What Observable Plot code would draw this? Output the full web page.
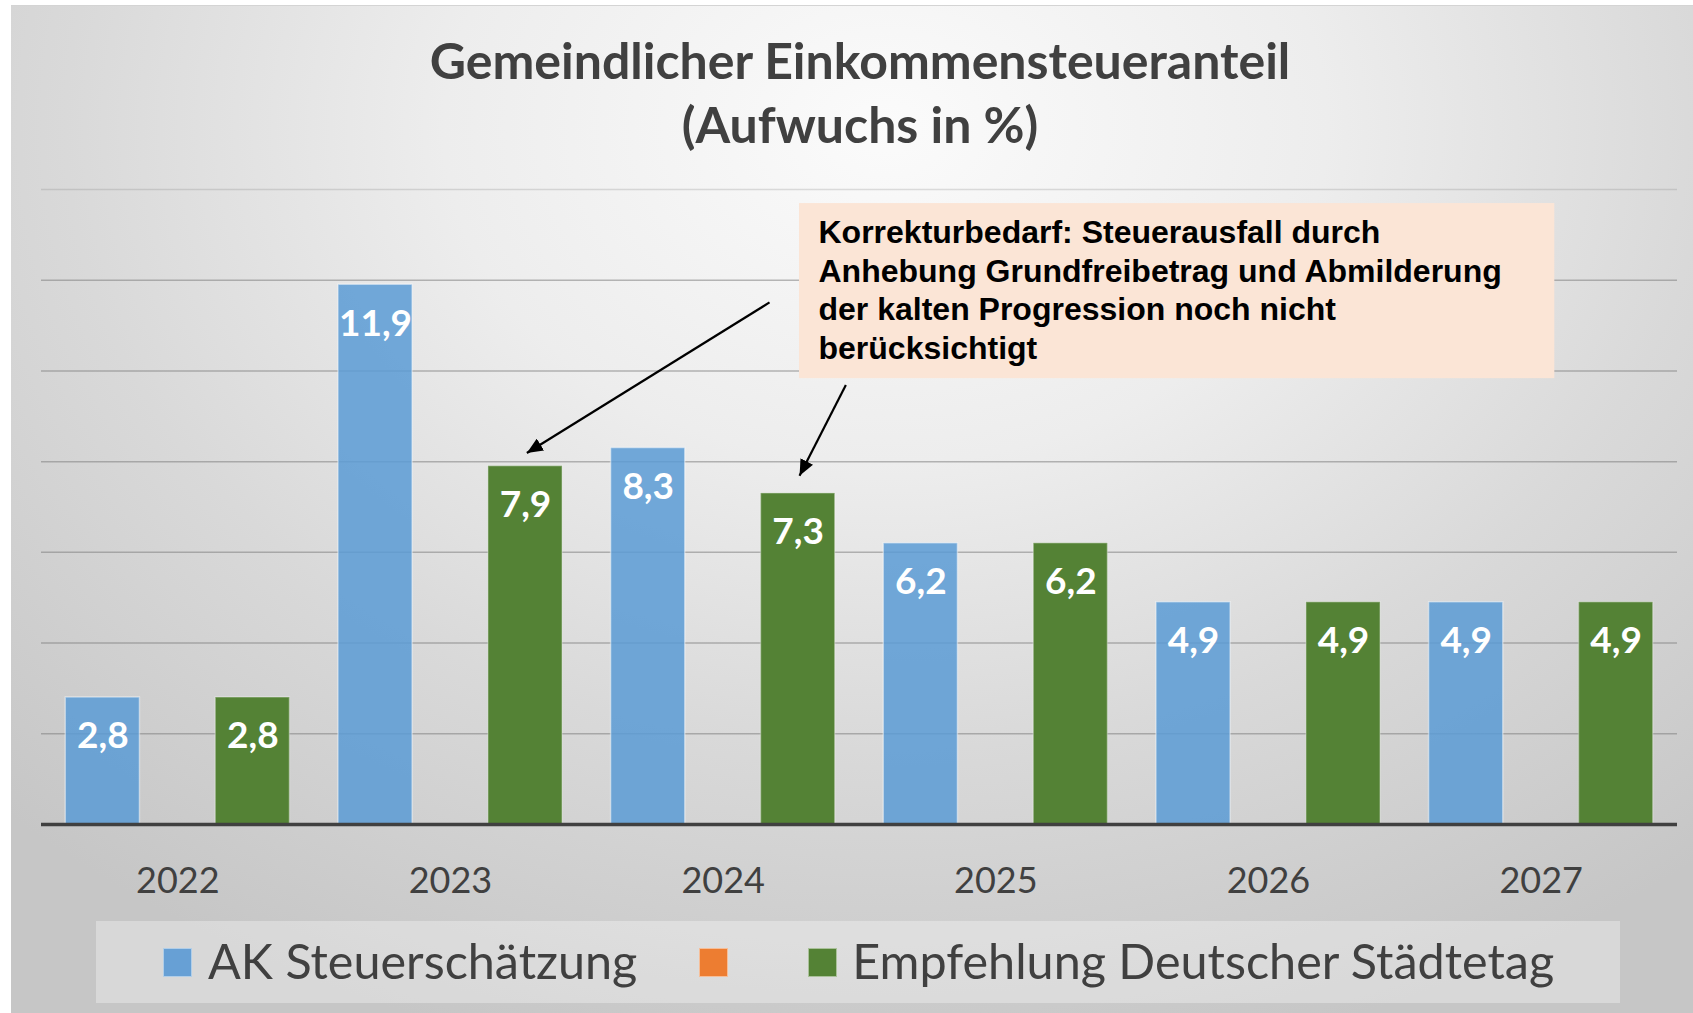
<!DOCTYPE html>
<html>
<head>
<meta charset="utf-8">
<script src="https://cdn.jsdelivr.net/npm/d3@7"></script>
<script src="https://cdn.jsdelivr.net/npm/@observablehq/plot@0.6"></script>
<style>
  html, body { margin: 0; padding: 0; width: 1693px; height: 1013px; overflow: hidden; background: #ffffff; }
  #bg { position: absolute; left: 11px; top: 5px; width: 1682px; height: 1008px;
        background: radial-gradient(ellipse 75% 95% at 52% 12%, #fbfbfb 0%, #ededed 35%, #d9d9d9 65%, #c6c6c6 100%);
        border-top: 1px solid #d4d4d4; }
  .title { position: absolute; left: 19px; width: 1682px; text-align: center; font-family: Lato, "Open Sans", sans-serif;
           font-weight: 700; font-size: 50px; color: #404040; line-height: 1; white-space: nowrap; }
  #plot { position: absolute; left: 0; top: 150px; }
  #legend { position: absolute; left: 96px; top: 921px; width: 1524px; height: 82px; background: rgba(255,255,255,0.32);
            display: flex; align-items: center; justify-content: flex-start; box-sizing: border-box; padding-left: 67px;
            font-family: Lato, "Open Sans", sans-serif; font-size: 48.5px; color: #404040; }
  .sw { width: 29px; height: 29px; flex: none; box-sizing: border-box; border: 1px solid rgba(255,255,255,0.5); }
  .lbl { white-space: nowrap; margin-top: -5px; }
</style>
</head>
<body>
<div id="bg"></div>
<div class="title" id="t1" style="top:35px"></div>
<div class="title" id="t2" style="top:99px"></div>
<div id="plot"></div>
<div id="legend"></div>
<script>
// ---- data ----
const titleLines = ["Gemeindlicher Einkommensteueranteil", "(Aufwuchs in %)"];
const years = [2022, 2023, 2024, 2025, 2026, 2027];
const seriesNames = ["AK Steuerschätzung", "", "Empfehlung Deutscher Städtetag"];
const seriesColors = ["#5B9BD5", "#ED7D31", "#548235"];
const akValues = [2.8, 11.9, 8.3, 6.2, 4.9, 4.9];
const dstValues = [2.8, 7.9, 7.3, 6.2, 4.9, 4.9];
const gridValues = [2, 4, 6, 8, 10, 12, 14];
const noteText = "Korrekturbedarf: Steuerausfall durch\nAnhebung Grundfreibetrag und Abmilderung\nder kalten Progression noch nicht\nberücksichtigt";
const noteX = [2024.28, 2027.05];
const noteY = [9.83, 13.69];
const arrowFromX = [2024.17, 2024.45];
const arrowFromY = [11.51, 9.69];
const arrowToX = [2023.28, 2024.28];
const arrowToY = [8.19, 7.69];

// ---- layout constants ----
const slotOffset = 0.275;   // distance of a series slot from group centre (in year units)
const halfBar = 0.136;      // half bar width (in year units)

document.getElementById("t1").textContent = titleLines[0];
document.getElementById("t2").textContent = titleLines[1];

const ak = years.map((y, i) => ({year: y, value: akValues[i]}));
const dst = years.map((y, i) => ({year: y, value: dstValues[i]}));
const note = [{x1: noteX[0], x2: noteX[1], y1: noteY[0], y2: noteY[1], text: noteText}];
const arrows = arrowFromX.map((_, i) => ({x1: arrowFromX[i], y1: arrowFromY[i], x2: arrowToX[i], y2: arrowToY[i]}));
const fmt = v => v.toFixed(1).replace(".", ",");

const labelOpts = {y: "value", text: d => fmt(d.value), dy: 39, fill: "white", fontWeight: "bold", fontSize: 37, fontFamily: "Lato, sans-serif"};

const chart = Plot.plot({
  width: 1693,
  height: 740,
  marginTop: 39,
  marginBottom: 66,
  marginLeft: 41,
  marginRight: 16,
  style: {background: "transparent", fontFamily: "Lato, sans-serif", fontSize: "36px", color: "#404040", overflow: "visible"},
  x: {domain: [2021.5, 2027.5], ticks: years, tickFormat: d => String(d), tickSize: 0, tickPadding: 43, label: null},
  y: {domain: [0, 14], axis: null},
  marks: [
    Plot.ruleY(gridValues, {stroke: "#7f7f7f", strokeWidth: 1.5, strokeOpacity: d => d === 14 ? 0.25 : 0.55}),
    Plot.rectY(ak, {x1: d => d.year - slotOffset - halfBar, x2: d => d.year - slotOffset + halfBar, y: "value",
                    fill: seriesColors[0], fillOpacity: 0.85, stroke: "#ffffff", strokeOpacity: 0.45, strokeWidth: 1.5}),
    Plot.rectY(dst, {x1: d => d.year + slotOffset - halfBar, x2: d => d.year + slotOffset + halfBar, y: "value",
                     fill: seriesColors[2], stroke: "#ffffff", strokeOpacity: 0.3, strokeWidth: 1.5}),
    Plot.ruleY([0], {stroke: "#404040", strokeWidth: 3.5}),
    Plot.text(ak, {...labelOpts, x: d => d.year - slotOffset}),
    Plot.text(dst, {...labelOpts, x: d => d.year + slotOffset}),
    Plot.rect(note, {x1: "x1", x2: "x2", y1: "y1", y2: "y2", fill: "#FBE5D6"}),
    Plot.text(note, {x: "x1", y: "y2", text: "text", textAnchor: "start", lineAnchor: "top", dx: 19, dy: 12,
                     fontFamily: "'Liberation Sans', Arial, sans-serif", fontWeight: "bold", fontSize: 32, lineHeight: 1.21, fill: "#000"}),
    Plot.link(arrows, {x1: "x1", y1: "y1", x2: "x2", y2: "y2", stroke: "#000", strokeWidth: 2.2, markerEnd: "arrow"})
  ]
});

// filled arrow heads
d3.select(chart).selectAll("marker")
  .attr("viewBox", "-16 -7 16 14")
  .attr("markerUnits", "userSpaceOnUse")
  .attr("markerWidth", 16).attr("markerHeight", 14)
  .each(function() {
    const m = d3.select(this);
    m.selectAll("*").remove();
    m.attr("fill", "#000").attr("stroke", "none");
    m.append("path").attr("d", "M-16,-7L0,0L-16,7Z").attr("fill", "#000");
  });

document.getElementById("plot").appendChild(chart);

// legend
const legend = d3.select("#legend");
const gaps = [[16, 62], [0, 80], [15, 0]];
seriesNames.forEach((name, i) => {
  legend.append("div").attr("class", "sw").style("background", seriesColors[i]).style("opacity", i === 0 ? 0.9 : 1);
  legend.append("div").attr("class", "lbl").text(name)
    .style("margin-left", gaps[i][0] + "px").style("margin-right", gaps[i][1] + "px");
});
</script>
</body>
</html>
